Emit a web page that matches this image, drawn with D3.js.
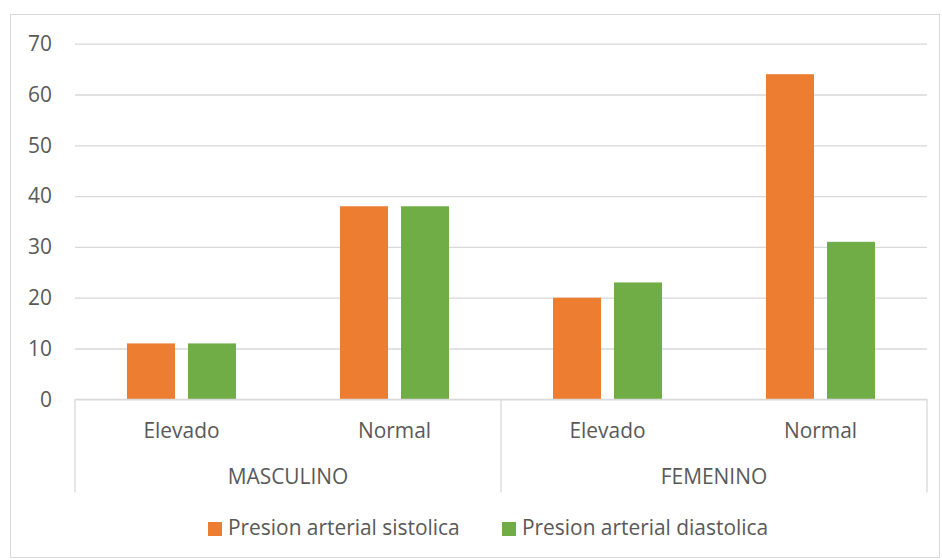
<!DOCTYPE html>
<html><head><meta charset="utf-8">
<script src="https://cdn.jsdelivr.net/npm/d3@7"></script>
<style>body{margin:0;background:#fff}svg{display:block}text{font-family:"Open Sans",sans-serif;fill:#595959}</style>
</head><body>
<svg id="c" width="942" height="560"></svg>
<script>
const groups = ["MASCULINO", "FEMENINO"];
const categories = ["Elevado", "Normal"];
const series = ["Presion arterial sistolica", "Presion arterial diastolica"];
const sistolica = [11, 38, 20, 64];
const diastolica = [11, 38, 23, 31];
const yTicks = [0, 10, 20, 30, 40, 50, 60, 70];
const colors = ["#ED7D31", "#70AD47"];

(function () {
const FS = "20.9px";
const svg = d3.select("#c");
svg.append("rect").attr("x", 10.5).attr("y", 14.5).attr("width", 929).attr("height", 543)
  .attr("fill", "#fff").attr("stroke", "#d9d9d9");

const pLeft = 75, pRight = 927, pTop = 43.7, pBottom = 399.3;
const y = d3.scaleLinear().domain([0, 70]).range([pBottom, pTop]);
const keys = [];
groups.forEach(g => categories.forEach(c => keys.push(g + "|" + c)));
const x0 = d3.scaleBand().domain(keys).range([pLeft, pRight]).paddingInner(0).paddingOuter(0);
const xg = d3.scaleBand().domain(groups).range([pLeft, pRight]);
const bw = 48, gap = 13;
const x1 = d3.scaleOrdinal().domain(series).range([-gap/2 - bw, gap/2]);

const ya = d3.axisLeft(y).tickValues(yTicks).tickSize(-(pRight - pLeft)).tickPadding(23);
const gy = svg.append("g").attr("transform", `translate(${pLeft},0)`).call(ya);
gy.select(".domain").remove();
gy.selectAll(".tick line").attr("stroke", "#d9d9d9").attr("stroke-width", 1.3);
gy.selectAll(".tick text").style("font-size", FS).style("font-family", "'Open Sans',sans-serif").attr("fill", "#595959");

const data = series.map((s, i) => ({s, vals: i === 0 ? sistolica : diastolica}));
data.forEach((d, i) => {
  svg.append("g").selectAll("rect").data(d.vals).join("rect")
    .attr("x", (v, j) => x0(keys[j]) + x0.bandwidth() / 2 + x1(d.s))
    .attr("width", bw)
    .attr("y", v => y(v))
    .attr("height", v => y(0) - y(v))
    .attr("fill", colors[i]);
});

svg.append("line").attr("x1", pLeft).attr("x2", pRight).attr("y1", pBottom).attr("y2", pBottom)
  .attr("stroke", "#d9d9d9").attr("stroke-width", 1.3);
const seps = [pLeft, xg(groups[1]), pRight];
svg.selectAll(".sep").data(seps).join("line")
  .attr("x1", d => d).attr("x2", d => d).attr("y1", pBottom).attr("y2", 492.5)
  .attr("stroke", "#d9d9d9").attr("stroke-width", 1.3);

svg.selectAll(".cat").data(keys).join("text")
  .attr("x", d => x0(d) + x0.bandwidth() / 2).attr("y", 438)
  .attr("text-anchor", "middle").style("font-size", FS)
  .text(d => d.split("|")[1]);
svg.selectAll(".grp").data(groups).join("text")
  .attr("x", d => xg(d) + xg.bandwidth() / 2).attr("y", 484)
  .attr("text-anchor", "middle").style("font-size", FS)
  .text(d => d);

const legX = [208, 502];
series.forEach((s, i) => {
  svg.append("rect").attr("x", legX[i]).attr("y", 522).attr("width", 14).attr("height", 14).attr("fill", colors[i]);
  svg.append("text").attr("x", legX[i] + 20).attr("y", 535).style("font-size", FS).text(s);
});
})();
</script>
</body></html>
